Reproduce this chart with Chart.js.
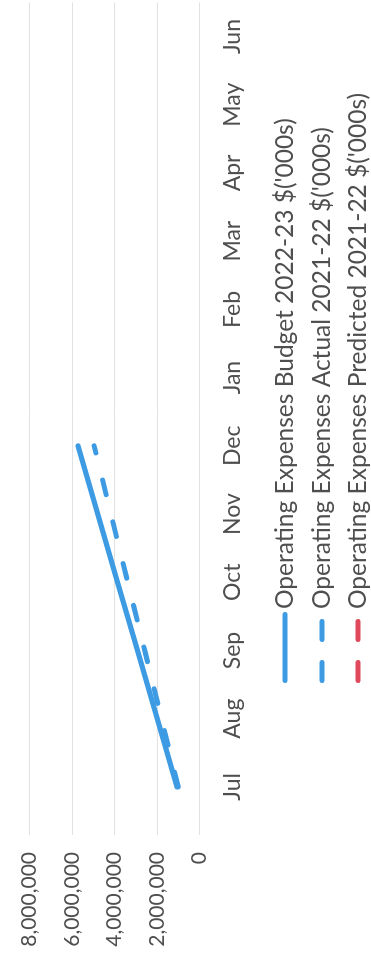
<!DOCTYPE html>
<html>
<head>
<meta charset="utf-8">
<script src="https://cdn.jsdelivr.net/npm/chart.js@4.4.0/dist/chart.umd.min.js"></script>
<style>
  html, body { margin: 0; padding: 0; background: #ffffff; overflow: hidden; }
  /* The chart is laid out landscape and turned a quarter turn to read upward */
  #wrap {
    position: absolute; left: 0; top: 0;
    width: 954px; height: 371px;
    transform-origin: 0 0;
    transform: translateY(954px) rotate(-90deg);
  }
  canvas { display: block; }
</style>
</head>
<body>
<div id="wrap"><canvas id="opex" width="954" height="371"></canvas></div>
<script>
// Months of the financial year
const months = ['Jul', 'Aug', 'Sep', 'Oct', 'Nov', 'Dec', 'Jan', 'Feb', 'Mar', 'Apr', 'May', 'Jun'];

// Cumulative operating expenses
const budget2223 = [1060000, 1990000, 2920000, 3860000, 4790000, 5720000, null, null, null, null, null, null];
const actual2122 = [1000000, 1790000, 2580000, 3380000, 4170000, 4960000, null, null, null, null, null, null];
const predicted2122 = [null, null, null, null, null, null, null, null, null, null, null, null];

// Value axis
const yTicks = [0, 2000000, 4000000, 6000000, 8000000];

const seriesNames = [
  "Operating Expenses Budget 2022-23 $('000s)",
  "Operating Expenses Actual 2021-22 $('000s)",
  "Operating Expenses Predicted 2021-22 $('000s)"
];

const BLUE = '#3d9be4';
const RED = '#e0485c';
const TEXT = '#4f4f4f';
const GRID = '#e2e2e2';
const FONT = 'Lato';

// Legend drawn as stacked rows beneath the axis labels
const stackedKey = {
  id: 'stackedKey',
  afterDraw(chart) {
    const { ctx, chartArea } = chart;
    const sampleLeft = chartArea.left + 138;
    const sampleLen = 71;
    const rows = [85.5, 122.5, 158.5];
    const keyDash = [[], [18, 23], [18, 23]];
    ctx.save();
    chart.data.datasets.forEach((ds, i) => {
      const y = chartArea.bottom + rows[i];
      ctx.beginPath();
      ctx.setLineDash(keyDash[i]);
      ctx.lineCap = 'round';
      ctx.lineWidth = 5;
      ctx.strokeStyle = ds.borderColor;
      ctx.moveTo(sampleLeft + 2.5, y);
      ctx.lineTo(sampleLeft + sampleLen - 2.5, y);
      ctx.stroke();
      ctx.setLineDash([]);
      ctx.fillStyle = TEXT;
      ctx.font = '24.5px ' + FONT;
      ctx.textBaseline = 'middle';
      ctx.textAlign = 'left';
      ctx.fillText(ds.label, sampleLeft + sampleLen + 3, y);
    });
    ctx.restore();
  }
};

new Chart(document.getElementById('opex'), {
  type: 'line',
  data: {
    labels: months,
    datasets: [
      {
        label: seriesNames[0],
        data: budget2223,
        borderColor: BLUE,
        backgroundColor: BLUE,
        borderWidth: 5,
        borderCapStyle: 'round',
        pointRadius: 0,
        tension: 0
      },
      {
        label: seriesNames[1],
        data: actual2122,
        borderColor: BLUE,
        backgroundColor: BLUE,
        borderWidth: 5,
        borderDash: [15, 28],
        borderCapStyle: 'round',
        pointRadius: 0,
        tension: 0
      },
      {
        label: seriesNames[2],
        data: predicted2122,
        borderColor: RED,
        backgroundColor: RED,
        borderWidth: 5,
        borderDash: [15, 28],
        borderCapStyle: 'round',
        pointRadius: 0,
        tension: 0
      }
    ]
  },
  options: {
    responsive: false,
    animation: false,
    devicePixelRatio: 1,
    layout: { padding: { top: 19, right: 0, bottom: 120, left: 0 } },
    plugins: {
      legend: { display: false },
      tooltip: { enabled: false }
    },
    scales: {
      x: {
        type: 'category',
        offset: true,
        grid: { display: false, drawTicks: false },
        border: { display: false },
        ticks: {
          color: TEXT,
          font: { family: FONT, size: 23 },
          maxRotation: 0,
          autoSkip: false,
          padding: 19
        },
        afterFit(axis) { axis.height = 51.5; }
      },
      y: {
        min: yTicks[0],
        max: yTicks[yTicks.length - 1],
        afterBuildTicks(axis) { axis.ticks = yTicks.map(v => ({ value: v })); },
        grid: { color: GRID, lineWidth: 1, drawTicks: true, tickLength: 14 },
        border: { display: false },
        ticks: {
          color: TEXT,
          font: { family: FONT, size: 21 },
          padding: 17,
          callback: v => Number(v).toLocaleString('en-US')
        },
        afterFit(axis) { axis.width = 133; }
      }
    }
  },
  plugins: [stackedKey]
});
</script>
</body>
</html>
